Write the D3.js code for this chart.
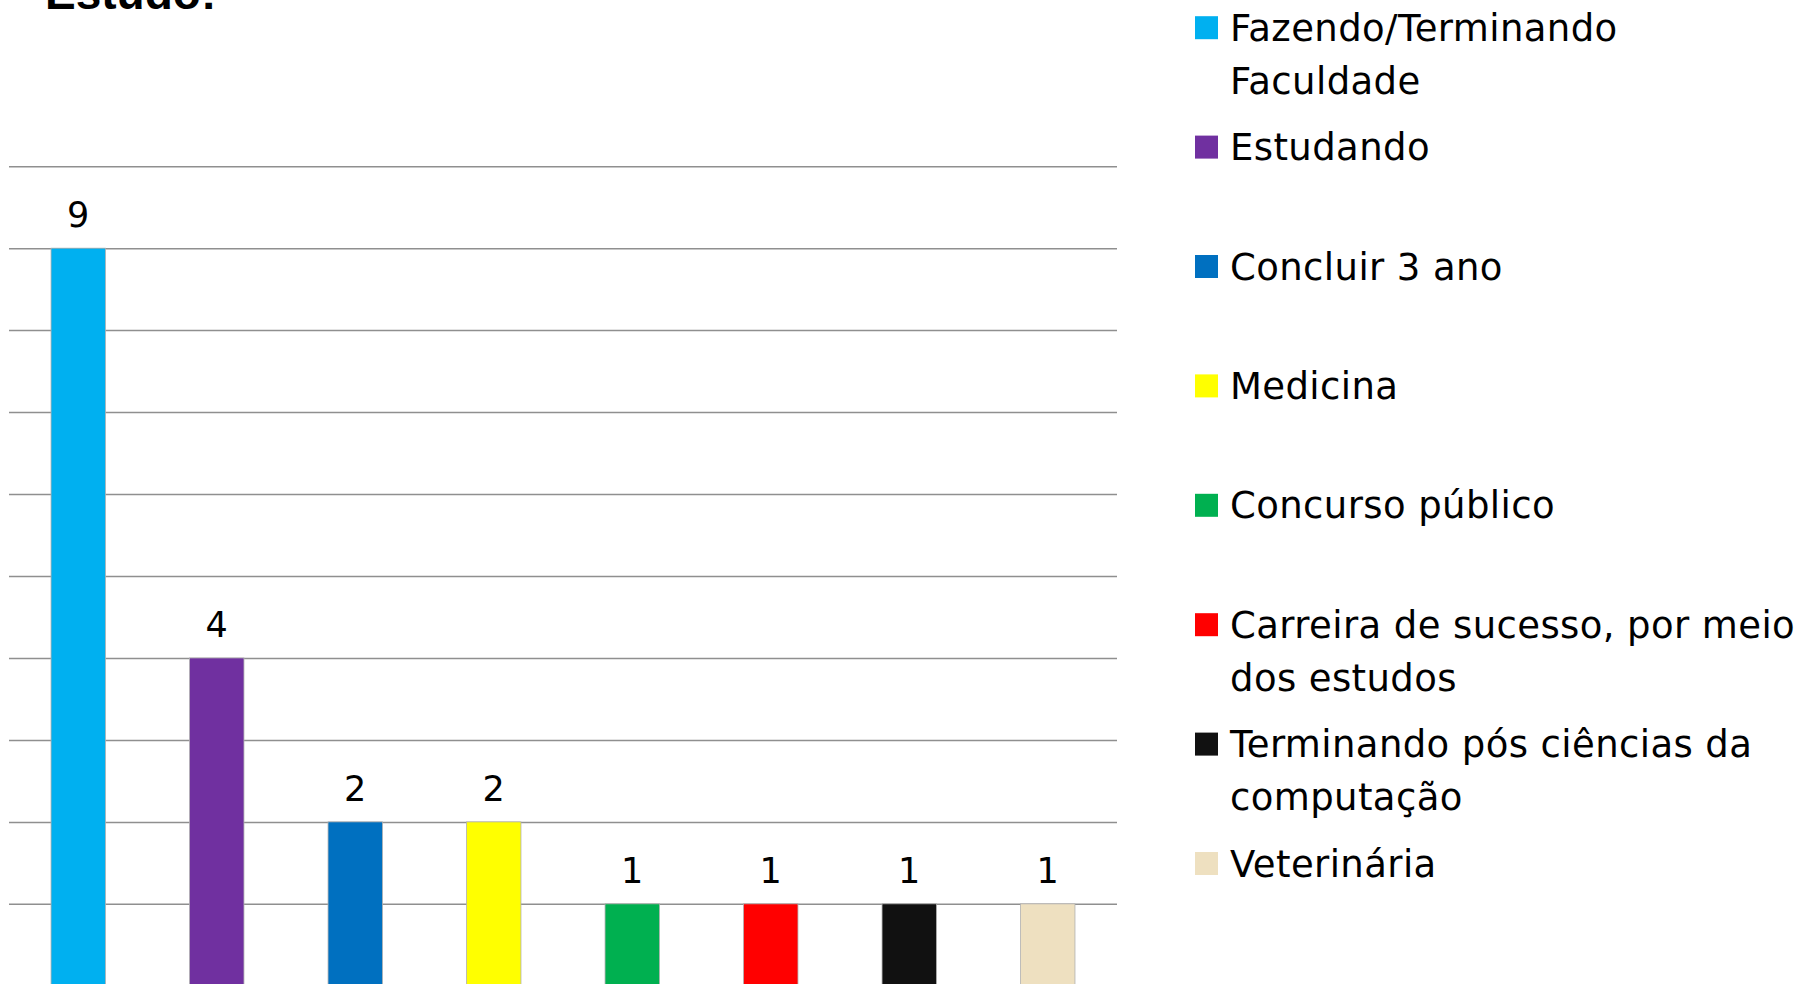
<!DOCTYPE html>
<html lang="pt">
<head>
    <meta charset="UTF-8">
    <title>Estudo</title>
    <script src="https://d3js.org/d3.v7.min.js"></script>
    <style>
        body { margin: 0; background: #fff; }
        svg { display: block; }
        .label, .legend text { font-family: "DejaVu Sans", sans-serif; fill: #000; }
        .title { font-family: "Liberation Sans", Arial, sans-serif; font-weight: bold; }
    </style>
</head>
<body>
    <div id="chart"></div>
    <script>
        // Data
        const categories = [
            "Fazendo/Terminando\nFaculdade",
            "Estudando",
            "Concluir 3 ano",
            "Medicina",
            "Concurso público",
            "Carreira de sucesso, por meio\ndos estudos",
            "Terminando pós ciências da\ncomputação",
            "Veterinária"
        ];
        const values = [9, 4, 2, 2, 1, 1, 1, 1];
        const colors = ["#00B0F0", "#7030A0", "#0070C0", "#FFFF00", "#00B050", "#FF0000", "#111111", "#EEE0C0"];
        const yTicks = [0, 1, 2, 3, 4, 5, 6, 7, 8, 9, 10];

        const W = 1810, H = 984;
        const plot = {left: 9, right: 1117, top: 166.2, bottom: 985.8};

        const svg = d3.select("#chart").append("svg")
            .attr("width", W)
            .attr("height", H);

        const x = d3.scaleBand()
            .domain(categories)
            .range([plot.left, plot.right])
            .paddingInner(0.607)
            .paddingOuter(0.3035);

        const y = d3.scaleLinear()
            .domain([0, 10])
            .range([plot.bottom, plot.top]);

        // gridlines (axis labels sit outside the cropped view)
        const grid = svg.append("g")
            .attr("transform", `translate(${plot.left},0)`)
            .call(d3.axisLeft(y).tickValues(yTicks).tickSize(-(plot.right - plot.left)).tickFormat(""));
        grid.select(".domain").remove();
        grid.selectAll(".tick line")
            .attr("stroke", "#8f8f8f")
            .attr("stroke-width", 1.5);

        // bars
        svg.append("g").selectAll("rect")
            .data(values)
            .join("rect")
            .attr("x", (d, i) => x(categories[i]))
            .attr("y", d => y(d))
            .attr("width", x.bandwidth())
            .attr("height", d => y(0) - y(d))
            .attr("fill", (d, i) => colors[i])
            .attr("stroke", "#b0b0b0")
            .attr("stroke-width", 0.8);

        // value labels
        svg.append("g").selectAll("text")
            .data(values)
            .join("text")
            .attr("class", "label")
            .attr("x", (d, i) => x(categories[i]) + x.bandwidth() / 2)
            .attr("y", d => y(d) - 21)
            .attr("text-anchor", "middle")
            .attr("font-size", "35px")
            .text(d => d);

        // title (cut off at the top edge, as in the source slide)
        svg.append("text")
            .attr("class", "title")
            .attr("x", 45)
            .attr("y", 9)
            .attr("font-size", "46px")
            .text("Estudo:");

        // legend
        const legend = {x: 1195, y0: 27.7, step: 119.4, box: 23, textX: 1230, lineH: 53};
        const items = svg.append("g").attr("class", "legend")
            .selectAll("g")
            .data(categories)
            .join("g")
            .attr("transform", (d, i) => `translate(0,${legend.y0 + i * legend.step})`);

        items.append("rect")
            .attr("x", legend.x)
            .attr("y", -legend.box / 2)
            .attr("width", legend.box)
            .attr("height", legend.box)
            .attr("fill", (d, i) => colors[i]);

        items.append("text")
            .attr("font-size", "37px")
            .attr("letter-spacing", "0.4px")
            .selectAll("tspan")
            .data(d => d.split("\n"))
            .join("tspan")
            .attr("x", legend.textX)
            .attr("y", (d, j) => 13 + j * legend.lineH)
            .text(d => d);
    </script>
</body>
</html>
